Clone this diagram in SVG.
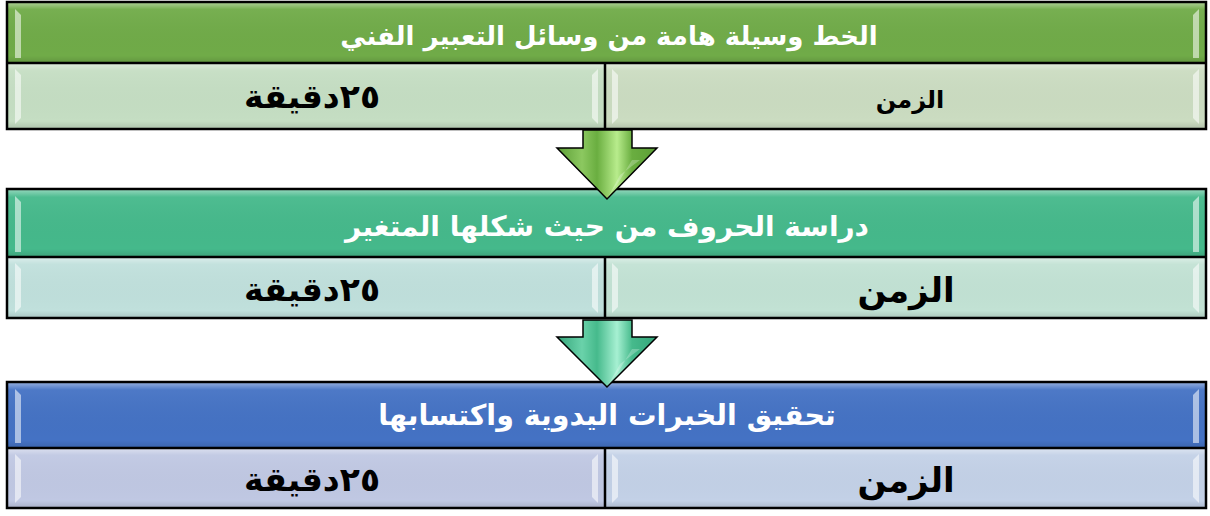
<svg xmlns="http://www.w3.org/2000/svg" width="1210" height="516" viewBox="0 0 1210 516">
<style>
.frame{fill:none;stroke:#000;stroke-width:2.5}
.line{stroke:#000;stroke-width:2.5}
.hdr{font-family:"DejaVu Sans",sans-serif;font-weight:bold;fill:#fff;text-anchor:middle}
.cell{font-family:"DejaVu Sans",sans-serif;font-weight:bold;fill:#000;text-anchor:middle}
.hl{fill:#fff;opacity:0.55}
.arrow{stroke:#000;stroke-width:1.5;stroke-linejoin:miter}
</style>
<defs>
<linearGradient id="gloss" x1="0" y1="0" x2="0" y2="1">
<stop offset="0" stop-color="#fff" stop-opacity="0.45"/>
<stop offset="0.12" stop-color="#fff" stop-opacity="0.05"/>
<stop offset="0.88" stop-color="#000" stop-opacity="0"/>
<stop offset="1" stop-color="#000" stop-opacity="0.12"/>
</linearGradient>
<linearGradient id="ag" x1="0" y1="0" x2="1" y2="0">
<stop offset="0" stop-color="#5c9e36"/>
<stop offset="0.25" stop-color="#8cc860"/>
<stop offset="0.4" stop-color="#6aae40"/>
<stop offset="0.6" stop-color="#b8ec8c"/>
<stop offset="0.75" stop-color="#6aae40"/>
<stop offset="1" stop-color="#5c9e36"/>
</linearGradient>
<linearGradient id="at" x1="0" y1="0" x2="1" y2="0">
<stop offset="0" stop-color="#34a57a"/>
<stop offset="0.25" stop-color="#6ad2aa"/>
<stop offset="0.4" stop-color="#46ba8c"/>
<stop offset="0.6" stop-color="#a6f0d2"/>
<stop offset="0.75" stop-color="#46ba8c"/>
<stop offset="1" stop-color="#34a57a"/>
</linearGradient>
</defs>

<g id="block1">
<rect x="7" y="2" width="1199" height="61" fill="#70ab48"/>
<rect x="7" y="63" width="598" height="66" fill="#c5dec3"/>
<rect x="605" y="63" width="601" height="66" fill="#cbdcc1"/>
<rect x="7" y="2" width="1199" height="61" fill="url(#gloss)"/>
<rect x="7" y="63" width="598" height="66" fill="url(#gloss)"/>
<rect x="605" y="63" width="601" height="66" fill="url(#gloss)"/>
<polygon class="hl" points="15,9 21,15 21,58 15,58"/>
<polygon class="hl" points="1199,9 1193,15 1193,58 1199,58"/>
<polygon class="hl" points="15,69 21,75 21,118 15,124"/>
<polygon class="hl" points="1199,69 1193,75 1193,118 1199,124"/>
<polygon class="hl" points="598,69 592,75 592,118 598,124"/>
<polygon class="hl" points="612,69 618,75 618,118 612,124"/>
<rect class="frame" x="7" y="2" width="1199" height="127"/>
<line class="line" x1="7" y1="63" x2="1206" y2="63"/>
<line class="line" x1="605" y1="63" x2="605" y2="129"/>
<text class="hdr" x="609" y="45" font-size="26">الخط وسيلة هامة من وسائل التعبير الفني</text>
<text class="cell" x="312" y="108" font-size="33">٢٥دقيقة</text>
<text class="cell" x="910" y="108" font-size="24">الزمن</text>
</g>

<g id="block2">
<rect x="7" y="189" width="1199" height="68" fill="#45b98b"/>
<rect x="7" y="257" width="598" height="61" fill="#c0e0dc"/>
<rect x="605" y="257" width="601" height="61" fill="#c2e2d4"/>
<rect x="7" y="189" width="1199" height="68" fill="url(#gloss)"/>
<rect x="7" y="257" width="598" height="61" fill="url(#gloss)"/>
<rect x="605" y="257" width="601" height="61" fill="url(#gloss)"/>
<polygon class="hl" points="15,196 21,202 21,252 15,252"/>
<polygon class="hl" points="1199,196 1193,202 1193,252 1199,252"/>
<polygon class="hl" points="15,263 21,269 21,307 15,313"/>
<polygon class="hl" points="1199,263 1193,269 1193,307 1199,313"/>
<polygon class="hl" points="598,263 592,269 592,307 598,313"/>
<polygon class="hl" points="612,263 618,269 618,307 612,313"/>
<rect class="frame" x="7" y="189" width="1199" height="129"/>
<line class="line" x1="7" y1="257" x2="1206" y2="257"/>
<line class="line" x1="605" y1="257" x2="605" y2="318"/>
<text class="hdr" x="607" y="236" font-size="28">دراسة الحروف من حيث شكلها المتغير</text>
<text class="cell" x="312" y="301" font-size="33">٢٥دقيقة</text>
<text class="cell" x="906" y="302" font-size="34">الزمن</text>
</g>

<g id="block3">
<rect x="7" y="382" width="1199" height="66" fill="#4472c4"/>
<rect x="7" y="448" width="598" height="60" fill="#c0c8e3"/>
<rect x="605" y="448" width="601" height="60" fill="#c3d1e7"/>
<rect x="7" y="382" width="1199" height="66" fill="url(#gloss)"/>
<rect x="7" y="448" width="598" height="60" fill="url(#gloss)"/>
<rect x="605" y="448" width="601" height="60" fill="url(#gloss)"/>
<polygon class="hl" points="15,389 21,395 21,443 15,443"/>
<polygon class="hl" points="1199,389 1193,395 1193,443 1199,443"/>
<polygon class="hl" points="15,454 21,460 21,497 15,503"/>
<polygon class="hl" points="1199,454 1193,460 1193,497 1199,503"/>
<polygon class="hl" points="598,454 592,460 592,497 598,503"/>
<polygon class="hl" points="612,454 618,460 618,497 612,503"/>
<rect class="frame" x="7" y="382" width="1199" height="126"/>
<line class="line" x1="7" y1="448" x2="1206" y2="448"/>
<line class="line" x1="605" y1="448" x2="605" y2="508"/>
<text class="hdr" x="607" y="425" font-size="28.5">تحقيق الخبرات اليدوية واكتسابها</text>
<text class="cell" x="312" y="491" font-size="33">٢٥دقيقة</text>
<text class="cell" x="906" y="492" font-size="34">الزمن</text>
</g>

<g id="connectors">
<polygon class="arrow" fill="url(#ag)" points="583,130 632,130 632,148 657,148 607,199 557,148 583,148"/>
<polygon fill="#fff" opacity="0.25" points="632,160 620,180 607,199 620,175 640,160"/>
<polygon class="arrow" fill="url(#at)" points="583,320 632,320 632,337 657,337 607,387 557,337 583,337"/>
<polygon fill="#fff" opacity="0.25" points="632,349 620,369 607,387 620,364 640,349"/>
</g>
</svg>
